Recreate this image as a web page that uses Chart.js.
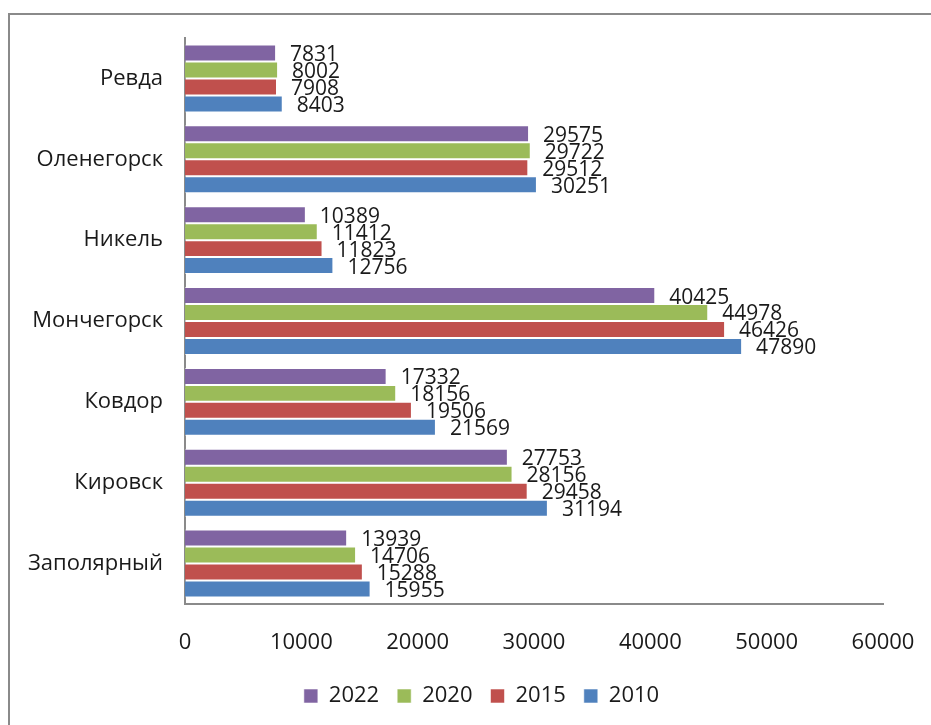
<!DOCTYPE html>
<html>
<head>
<meta charset="utf-8">
<script src="https://cdn.jsdelivr.net/npm/chart.js"></script>
<style>
    html, body { margin: 0; padding: 0; background: #fff; }
    #wrap { width: 931px; height: 725px; position: relative; }
</style>
</head>
<body>
<div id="wrap"><canvas id="chart"></canvas></div>
<script>
// города сверху вниз
const cities = ['Ревда', 'Оленегорск', 'Никель', 'Мончегорск', 'Ковдор', 'Кировск', 'Заполярный'];

// численность населения по годам
const pop2022 = [7831, 29575, 10389, 40425, 17332, 27753, 13939];
const pop2020 = [8002, 29722, 11412, 44978, 18156, 28156, 14706];
const pop2015 = [7908, 29512, 11823, 46426, 19506, 29458, 15288];
const pop2010 = [8403, 30251, 12756, 47890, 21569, 31194, 15955];

const xMin = 0;
const xMax = 60000;
const xStep = 10000;

const FONT = "'Open Sans', 'DejaVu Sans', sans-serif";

// рамка вокруг диаграммы (видны только верх и левый край)
const framePlugin = {
    id: 'frame',
    beforeDraw(chart) {
        const ctx = chart.ctx;
        ctx.save();
        ctx.fillStyle = '#fff';
        ctx.fillRect(0, 0, chart.width, chart.height);
        ctx.strokeStyle = '#8a8a8a';
        ctx.lineWidth = 2;
        ctx.beginPath();
        ctx.moveTo(9, chart.height);
        ctx.lineTo(9, 14);
        ctx.lineTo(chart.width, 14);
        ctx.stroke();
        ctx.restore();
    }
};

// легенда в оригинале сдвинута вправо (центр под областью построения)
const legendShift = {
    id: 'legendShift',
    afterLayout(chart) {
        if (chart.legend) {
            chart.legend.left += 80;
        }
    }
};

// подписи значений справа от столбцов
const valueLabels = {
    id: 'valueLabels',
    afterDatasetsDraw(chart) {
        const ctx = chart.ctx;
        ctx.save();
        ctx.font = '21px ' + FONT;
        ctx.fillStyle = '#1a1a1a';
        ctx.textAlign = 'left';
        ctx.textBaseline = 'middle';
        chart.data.datasets.forEach((ds, i) => {
            const meta = chart.getDatasetMeta(i);
            meta.data.forEach((bar, j) => {
                ctx.fillText(String(ds.data[j]), bar.x + 14, bar.y + 2);
            });
        });
        ctx.restore();
    }
};

function makeSet(label, data, color) {
    return {
        label: label,
        data: data,
        backgroundColor: color,
        borderColor: 'rgba(255,255,255,0.55)',
        borderWidth: 1,
        categoryPercentage: 0.84,
        barPercentage: 1.0
    };
}

new Chart(document.getElementById('chart'), {
    type: 'bar',
    data: {
        labels: cities,
        datasets: [
            makeSet('2022', pop2022, '#8064a2'),
            makeSet('2020', pop2020, '#9bbb59'),
            makeSet('2015', pop2015, '#c0504d'),
            makeSet('2010', pop2010, '#4f81bd')
        ]
    },
    options: {
        indexAxis: 'y',
        responsive: true,
        maintainAspectRatio: false,
        animation: false,
        layout: { padding: { top: 38, right: 48, bottom: 8, left: 0 } },
        scales: {
            x: {
                min: xMin,
                max: xMax,
                grid: { display: false, drawTicks: false },
                border: { display: true, color: '#8a8a8a', width: 2 },
                ticks: {
                    stepSize: xStep,
                    padding: 26,
                    color: '#1a1a1a',
                    font: { family: FONT, size: 22 },
                    callback: (v) => String(v)
                },
                afterFit(scale) {
                    scale.height = 63;
                    scale.paddingLeft = 0;
                    scale.paddingRight = 0;
                }
            },
            y: {
                grid: { display: false, drawTicks: false },
                border: { display: true, color: '#8a8a8a', width: 2 },
                ticks: {
                    padding: 22,
                    color: '#1a1a1a',
                    font: { family: FONT, size: 22 }
                },
                afterFit(scale) { scale.width = 185; }
            }
        },
        plugins: {
            legend: {
                position: 'bottom',
                labels: {
                    boxWidth: 14,
                    boxHeight: 14,
                    padding: 18,
                    color: '#1a1a1a',
                    font: { family: FONT, size: 22 }
                }
            },
            tooltip: { enabled: false }
        }
    },
    plugins: [framePlugin, legendShift, valueLabels]
});
</script>
</body>
</html>
